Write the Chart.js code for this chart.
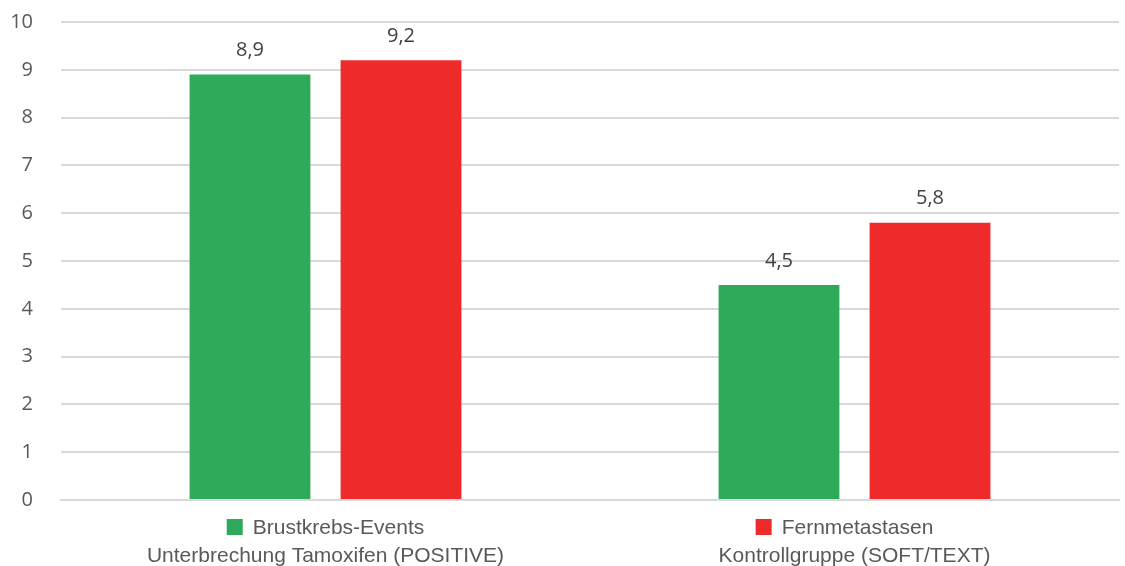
<!DOCTYPE html>
<html>
<head>
<meta charset="utf-8">
<script src="https://cdn.jsdelivr.net/npm/chart.js@4"></script>
<style>
  html, body { margin: 0; padding: 0; background: #fff; }
  #wrap { width: 1125px; height: 566px; }
</style>
</head>
<body>
<div id="wrap"><canvas id="chart"></canvas></div>
<script>
// ── Data ──────────────────────────────────────────────────────────────────────
const categories = ["Unterbrechung Tamoxifen (POSITIVE)", "Kontrollgruppe (SOFT/TEXT)"];
const seriesNames = ["Brustkrebs-Events", "Fernmetastasen"];
const brustkrebsEvents = [8.9, 4.5];
const fernmetastasen = [9.2, 5.8];
const yTicks = [0, 1, 2, 3, 4, 5, 6, 7, 8, 9, 10];

const COLORS = ["#2EAA5A", "#EE2A2A"];
const TEXT = "#595959";
const ARIAL = "'Liberation Sans', Arial, sans-serif";

// ── Plugins ───────────────────────────────────────────────────────────────────
// value labels above bars, German decimal comma
const valueLabels = {
  id: "valueLabels",
  afterDatasetsDraw(chart) {
    const ctx = chart.ctx;
    ctx.save();
    ctx.font = "20px 'Open Sans', sans-serif";
    ctx.fillStyle = "#404040";
    ctx.textAlign = "center";
    ctx.textBaseline = "middle";
    chart.data.datasets.forEach((ds, i) => {
      chart.getDatasetMeta(i).data.forEach((bar, j) => {
        ctx.fillText(ds.data[j].toFixed(1).replace(".", ","), bar.x, bar.y - 24);
      });
    });
    ctx.restore();
  },
};

// legend row between axis and category labels, one item under each group
const inlineLegend = {
  id: "inlineLegend",
  afterDraw(chart) {
    const ctx = chart.ctx;
    const x = chart.scales.x;
    const y = chart.chartArea.bottom + 27;
    ctx.save();
    ctx.font = "21px " + ARIAL;
    ctx.textBaseline = "middle";
    chart.data.datasets.forEach((ds, i) => {
      const w = 16 + 10 + ctx.measureText(ds.label).width;
      const cx = x.getPixelForValue(i) - (i === 1 ? 10 : 0);
      const left = cx - w / 2;
      ctx.fillStyle = ds.backgroundColor;
      ctx.fillRect(left, y - 8, 16, 16);
      ctx.fillStyle = TEXT;
      ctx.textAlign = "left";
      ctx.fillText(ds.label, left + 26, y + 1);
    });
    ctx.restore();
  },
};

// ── Chart ─────────────────────────────────────────────────────────────────────
new Chart(document.getElementById("chart"), {
  type: "bar",
  data: {
    labels: categories,
    datasets: [
      { label: seriesNames[0], data: brustkrebsEvents, backgroundColor: COLORS[0] },
      { label: seriesNames[1], data: fernmetastasen, backgroundColor: COLORS[1] },
    ],
  },
  options: {
    responsive: true,
    maintainAspectRatio: false,
    animation: false,
    layout: { padding: { left: 10, right: 6, top: 22, bottom: 0 } },
    datasets: { bar: { categoryPercentage: 0.571, barPercentage: 0.8 } },
    plugins: { legend: { display: false }, tooltip: { enabled: false } },
    scales: {
      x: {
        afterFit: axis => { axis.height = 66; axis.paddingLeft = 0; axis.paddingRight = 0; },
        grid: { display: false },
        border: { color: "#d9d9d9", width: 2 },
        ticks: {
          color: TEXT,
          padding: 38,
          maxRotation: 0,
          font: { family: ARIAL, size: 21, lineHeight: 1 },
        },
      },
      y: {
        min: 0,
        max: 10,
        afterBuildTicks: axis => { axis.ticks = yTicks.map(v => ({ value: v })); },
        afterFit: axis => { axis.width = 51; axis.paddingTop = 0; axis.paddingBottom = 0; },
        grid: { color: "#d9d9d9", lineWidth: 2, drawTicks: false },
        border: { display: false },
        ticks: {
          color: TEXT,
          padding: 28,
          font: { family: "'Open Sans', sans-serif", size: 20 },
        },
      },
    },
  },
  plugins: [valueLabels, inlineLegend],
});
</script>
</body>
</html>
